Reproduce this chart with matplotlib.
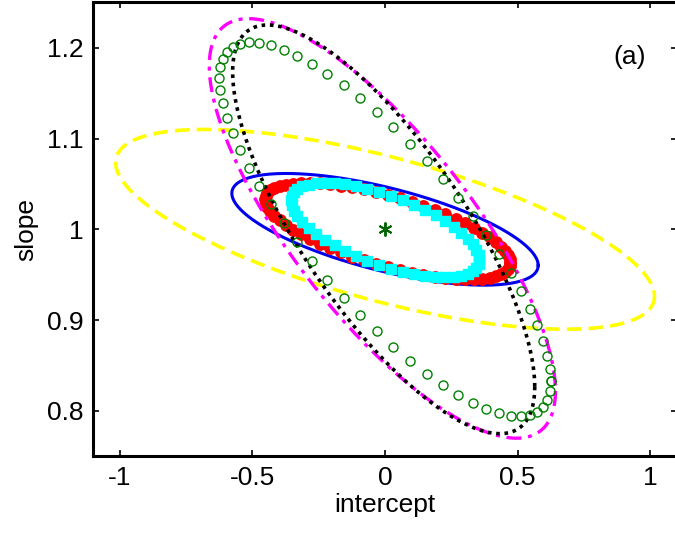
import matplotlib
matplotlib.use("Agg")
import matplotlib.pyplot as plt
import numpy as np

plt.rcParams['font.family'] = ['Liberation Sans', 'DejaVu Sans']

# Confidence ellipses in the (intercept, slope) plane:
# centre, half-extent along x, half-extent along y, correlation
names = ["yellow", "blue", "red", "cyan", "magenta", "black", "green"]
center_x = [0.0, 0.0, 0.01, 0.0, -0.01, -0.005, 0.0]
center_y = [1.0, 1.0, 0.998, 0.999, 1.001, 1.0, 1.0]
half_x = [1.015, 0.577, 0.462, 0.355, 0.652, 0.569, 0.624]
half_y = [0.110, 0.0615, 0.053, 0.052, 0.231, 0.225, 0.206]
rho = [-0.67, -0.645, -0.66, -0.63, -0.775, -0.77, -0.81]
n_points = [200, 200, 64, 50, 200, 200, 62]

# true parameter value
true_intercept = 0.0
true_slope = 1.0

styles = {
    "yellow": dict(color="#ffff00", linestyle=(0, (4, 2)), linewidth=2.6),
    "blue": dict(color="#0000ee", linestyle="-", linewidth=2.2),
    "red": dict(color="#ff0000", linestyle="none", marker="o", markersize=8.2,
                markeredgecolor="#ff0000"),
    "cyan": dict(color="#00ffff", linestyle="none", marker="s", markersize=6.5,
                 markeredgecolor="#00ffff"),
    "magenta": dict(color="#ff00ff", linestyle=(0, (4.5, 2, 1.2, 2)), linewidth=2.4),
    "black": dict(color="black", linestyle=(0, (1, 1.3)), linewidth=2.6),
    "green": dict(color="#008000", linestyle="none", marker="o", markersize=6.5,
                  markerfacecolor="none", markeredgewidth=1.0),
}

fig = plt.figure(figsize=(6.75, 5.35), dpi=100)
ax = fig.add_axes([0.1378, 0.147, 0.8652, 0.8487])

for i, name in enumerate(names):
    t = np.linspace(0, 2 * np.pi, n_points[i] + 1)
    phi = np.arccos(rho[i])
    x = center_x[i] + half_x[i] * np.cos(t)
    y = center_y[i] + half_y[i] * np.cos(t + phi)
    ax.plot(x, y, **styles[name])

ax.plot(true_intercept, true_slope, marker=(6, 2, 0), color="#006400",
        markersize=10, markeredgewidth=1.4, linestyle="none")

ax.text(0.92, 1.19, "(a)", fontsize=19, ha="center", va="center")

ax.set_xlim(-1.1, 1.1)
ax.set_ylim(0.75, 1.25)
ax.set_xticks([-1, -0.5, 0, 0.5, 1])
ax.set_xticklabels(["-1", "-0.5", "0", "0.5", "1"])
ax.set_yticks([0.8, 0.9, 1.0, 1.1, 1.2])
ax.set_yticklabels(["0.8", "0.9", "1", "1.1", "1.2"])
ax.tick_params(direction="in", length=4, width=1.2, labelsize=19,
               top=True, right=True, pad=7)
for sp in ax.spines.values():
    sp.set_linewidth(2.2)

ax.set_xlabel("intercept", fontsize=19, labelpad=2)
ax.set_ylabel("slope", fontsize=19, labelpad=6)

fig.savefig("out.png", dpi=100)
